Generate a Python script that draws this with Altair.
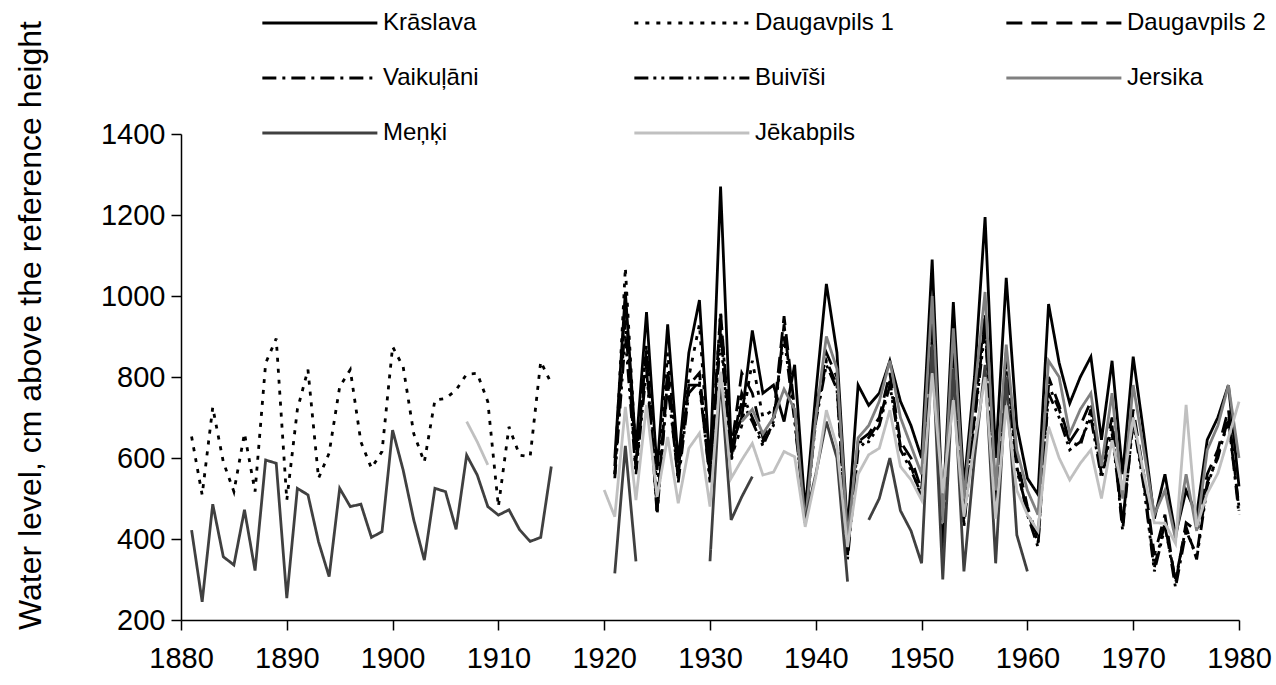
import altair as alt
import pandas as pd

stations = ["Krāslava", "Daugavpils 1", "Daugavpils 2", "Vaikuļāni", "Buivīši",
            "Jersika", "Meņķi", "Jēkabpils"]
# order of the legend entries (the legend fills column by column)
legend_order = ["Krāslava", "Vaikuļāni", "Meņķi", "Daugavpils 1", "Buivīši",
                "Jēkabpils", "Daugavpils 2", "Jersika"]
style = {
    "Krāslava": ("#000000", [1, 0]),
    "Daugavpils 1": ("#000000", [4, 7]),
    "Daugavpils 2": ("#000000", [16, 9]),
    "Vaikuļāni": ("#000000", [14, 6, 3, 6]),
    "Buivīši": ("#000000", [14, 5, 3, 5, 3, 5]),
    "Jersika": ("#808080", [1, 0]),
    "Meņķi": ("#404040", [1, 0]),
    "Jēkabpils": ("#c0c0c0", [1, 0]),
}
colors = [style[s][0] for s in legend_order]
dashes = [style[s][1] for s in legend_order]

x_ticks = list(range(1880, 1981, 10))
y_ticks = list(range(200, 1401, 200))

# ---- early period 1881-1915 ----
early_start = 1881
daug1_early = [653, 509, 725, 590, 517, 661, 517, 834, 895, 496, 720, 818, 550, 612,
               776, 818, 640, 575, 616, 875, 825, 660, 590, 743, 747, 768, 807, 809,
               739, 480, 677, 607, 603, 838, 784]
menki_early = [422, 245, 486, 356, 336, 472, 322, 595, 587, 254, 525, 509, 393, 307,
               525, 480, 486, 404, 418, 669, 570, 447, 348, 525, 517, 424, 607, 558,
               480, 459, 472, 423, 394, 404, 579]
jek_early_start = 1907
jek_early = [690, 640, 583]

# ---- later period 1920-1980 ----
late_start = 1920
N = None
kraslava = [N, 600, 1010, 620, 960, 570, 930, 590, 860, 990, 575, 1270, 630, 700, 915,
            760, 780, 690, 830, 470, 760, 1030, 860, 420, 780, 730, 760, 840, 740, 680,
            600, 1090, 460, 985, 530, 800, 1195, 600, 1045, 680, 550, 510, 980, 835, 735,
            800, 850, 645, 840, 560, 850, 660, 450, 560, 410, 520, 460, 645, 700, 780, 530]
daug1_late = [N, 560, 1070, 600, 880, 520, 860, 570, 800, 930, 560, 960, 600, 680, 840,
              700, 720] + [N] * 44
daug2 = [N, 580, 990, 590, 870, 470, 820, 560, 780, 810, 560, 960, 620, 810, 760,
         650, 700, 950, 720, 450, 720, 860, 800, 360, 640, 660, 700, 810, 640, 600,
         520, 940, 380, 900, 450, 720, 960, 500, 860, 600, 480, 400, 800, 730, 640,
         680, 740, 580, 700, 430, 720, 560, 360, 460, 290, 440, 420, 560, 620, 720, 470]
vaikulani = [N, 560, 940, 570, 840, 460, 800, 540, 760, 790, 540, 920, 600, 760, 700,
             640, 680, 930, 700, 440, 700, 840, 780, 350, 620, 650, 690, 790, 630, 580,
             500, 920, 360, 880, 430, 700, 940, 480, 840, 580, 460, 380, 780, 720, 640,
             630, 720, 560, 680, 420, 700, 540, 330, 440, 280, 420, 360, 540, 600, 700, 460]
buivisi = [N, 550, 900, 560, 820, 470, 780, 550, 780, 780, 550, 900, 590, 740, 690,
           630, 690, 900, 690, 450, 690, 830, 770, 370, 640, 640, 680, 780, 620, 570,
           510, 900, 370, 860, 440, 690, 920, 470, 820, 570, 470, 390, 760, 700, 620,
           640, 700, 550, 660, 440, 690, 530, 320, 430, 300, 430, 350, 530, 610, 690, 480]
jersika = [N] * 13 + [690, 720, 660, 700, 770, 720, 440, 700, 900, 820, 400, 650, 680,
                      740, 840, 700, 630, 560, 1000, 440, 920, 500, 760, 1010, 520, 880,
                      620, 520, 460, 840, 800, 660, 720, 760, 580, 760, 500, 780, 620,
                      460, 520, 400, 560, 420, 620, 680, 780, 600]
menki_late = [N, 315, 630, 345, N, N, N, N, N, N, 345, 800, 447, 504, 554,
              N, N, N, N, 447, 560, 690, 600, 295, N, 447, 500, 600, 470, 420,
              340, 880, 300, 820, 320, 600, 830, 340, 800, 410, 320] + [N] * 20
jekabpils = [521, 455, 726, 496, 731, 504, 652, 488, 624, 661, 480, 813, 550, 595, 636,
             558, 565, 616, 603, 430, 554, 718, 628, 380, 560, 608, 624, 718, 579, 546,
             496, 809, 513, 743, 455, 640, 800, 450, 730, 520, 460, 420, 677, 600, 546,
             587, 620, 500, 644, 521, 700, 560, 440, 439, 389, 731, 430, 513, 562, 650, 739]

series = [
    ("Krāslava", [(late_start, kraslava)]),
    ("Daugavpils 1", [(early_start, daug1_early), (late_start, daug1_late)]),
    ("Daugavpils 2", [(late_start, daug2)]),
    ("Vaikuļāni", [(late_start, vaikulani)]),
    ("Buivīši", [(late_start, buivisi)]),
    ("Jersika", [(late_start, jersika)]),
    ("Meņķi", [(early_start, menki_early), (late_start, menki_late)]),
    ("Jēkabpils", [(jek_early_start, jek_early), (late_start, jekabpils)]),
]

rows = []
seg_id = 0
for name, parts in series:
    for start, vals in parts:
        prev_none = True
        for i, v in enumerate(vals):
            if v is None:
                prev_none = True
                continue
            if prev_none:
                seg_id += 1
                prev_none = False
            rows.append({"year": start + i, "value": v, "station": name,
                         "seg": f"s{seg_id:03d}"})
df = pd.DataFrame(rows)

FONT = "Liberation Sans"

# long horizontal line sample: a custom symbol path that reaches far to the left
legend = alt.Legend(
    title=None, orient="none", legendX=166, legendY=-127, columns=3,
    symbolType="M-7,0H1", symbolSize=827, symbolStrokeWidth=2.8,
    symbolFillColor="transparent",
    labelFont=FONT, labelFontSize=24, labelColor="black", labelOffset=4,
    columnPadding=106, rowPadding=27, gridAlign="all",
)

chart = alt.Chart(df).mark_line(strokeWidth=2.8).encode(
    x=alt.X("year:Q",
            scale=alt.Scale(domain=[1880, 1980], nice=False, zero=False),
            axis=alt.Axis(values=x_ticks, format="d", title=None, labelPadding=14,
                          labelFlush=False, labelOverlap=False)),
    y=alt.Y("value:Q",
            scale=alt.Scale(domain=[200, 1400], nice=False, zero=False),
            axis=alt.Axis(values=y_ticks, format="d",
                          title="Water level, cm above the reference height",
                          titleX=-151, titleY=191, titleAngle=270,
                          titleBaseline="middle", titleAlign="center",
                          labelPadding=6, labelFlush=False, labelOverlap=False)),
    color=alt.Color("station:N", scale=alt.Scale(domain=legend_order, range=colors),
                    sort=legend_order, legend=legend),
    strokeDash=alt.StrokeDash("station:N",
                              scale=alt.Scale(domain=legend_order, range=dashes),
                              sort=legend_order, legend=legend),
    detail="seg:N",
).properties(
    width=1058, height=486,
    autosize=alt.AutoSizeParams(type="none"),
    padding={"left": 181, "top": 134, "right": 37, "bottom": 65},
).configure_view(stroke=None).configure_axis(
    grid=False, domainColor="black", tickColor="black", tickSize=10,
    labelFont=FONT, labelFontSize=29, labelColor="black",
    titleFont=FONT, titleFontSize=32, titleFontWeight="normal", titleColor="black",
    domainWidth=1.5, tickWidth=1.5,
)

chart.save("out.html", embed_options={"renderer": "svg", "actions": False})
